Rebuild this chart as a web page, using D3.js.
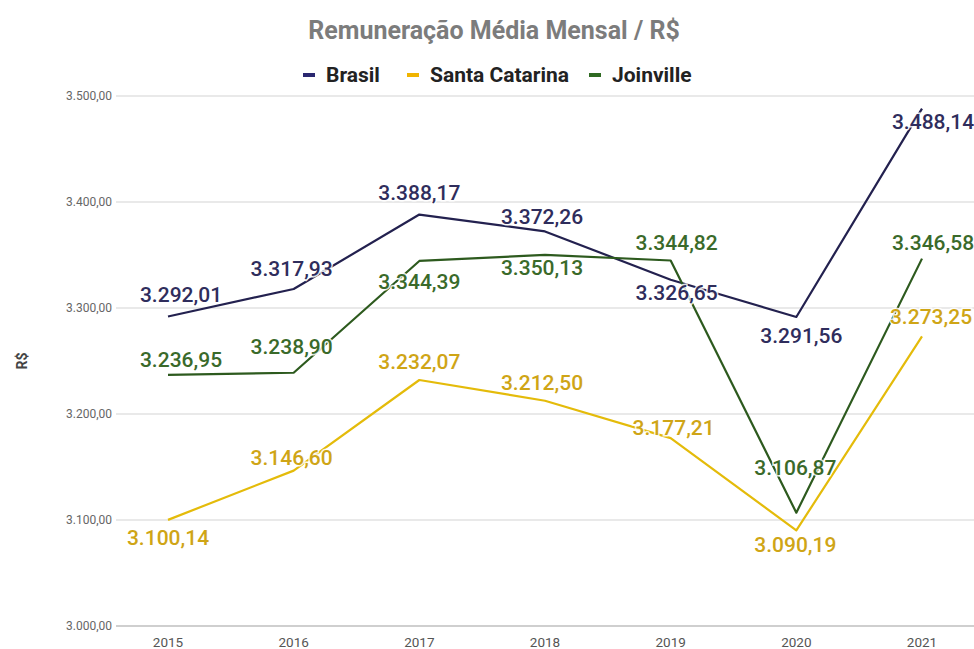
<!DOCTYPE html>
<html>
<head>
<meta charset="utf-8">
<script src="https://cdn.jsdelivr.net/npm/d3@7"></script>
<style>
  body { margin: 0; background: #fff; }
  svg { font-family: Roboto, "Liberation Sans", Arial, sans-serif; }
</style>
</head>
<body>
<svg id="chart" width="974" height="649"></svg>
<script>
// Data
const years = ["2015", "2016", "2017", "2018", "2019", "2020", "2021"];
const brasil = [3292.01, 3317.93, 3388.17, 3372.26, 3326.65, 3291.56, 3488.14];
const santaCatarina = [3100.14, 3146.60, 3232.07, 3212.50, 3177.21, 3090.19, 3273.25];
const joinville = [3236.95, 3238.90, 3344.39, 3350.13, 3344.82, 3106.87, 3346.58];
const yTicks = [3000, 3100, 3200, 3300, 3400, 3500];

// Label offsets (layout only), one [dx, dy] per point
const brasilOffsets = [[13, -22], [-2, -20], [0, -22], [-3, -15], [6, 13], [5, 19], [11, 13]];
const scOffsets = [[0, 18], [-2, -13], [0, -18], [-3, -18], [3, -11], [-1, 14], [9, -20]];
const joinvilleOffsets = [[13, -15], [-2, -26], [0, 21], [-3, 13], [6, -18], [-1, -45], [11, -16]];

const series = [
  { name: "Brasil", values: brasil, offsets: brasilOffsets, line: "#23214f", label: "#2f2d5c", key: "#2a2870" },
  { name: "Santa Catarina", values: santaCatarina, offsets: scOffsets, line: "#e4bb0a", label: "#cfa516", key: "#f0b400" },
  { name: "Joinville", values: joinville, offsets: joinvilleOffsets, line: "#2d5a1e", label: "#3a6a2a", key: "#2f6a22" }
];

const ptBR = d3.formatLocale({ decimal: ",", thousands: ".", grouping: [3], currency: ["R$", ""] });
const fmt = ptBR.format(",.2f");

const svg = d3.select("#chart");
const width = +svg.attr("width");

const x = d3.scalePoint().domain(years).range([168, 922]);
const y = d3.scaleLinear().domain([3000, 3500]).range([626, 96]);

// Title
svg.append("text")
  .attr("x", 494)
  .attr("y", 39)
  .attr("text-anchor", "middle")
  .style("font-size", "25px")
  .style("font-weight", "bold")
  .style("fill", "#7c7c7c")
  .text("Remuneração Média Mensal / R$");

// Legend
const legendItems = [
  { s: series[0], x: 303 },
  { s: series[1], x: 407 },
  { s: series[2], x: 589 }
];
const legend = svg.append("g");
legendItems.forEach(d => {
  legend.append("rect")
    .attr("x", d.x)
    .attr("y", 73)
    .attr("width", 12)
    .attr("height", 4)
    .attr("fill", d.s.key);
  legend.append("text")
    .attr("x", d.x + 23)
    .attr("y", 82)
    .style("font-size", "21px")
    .style("font-weight", "bold")
    .style("fill", "#222")
    .text(d.s.name);
});

// Grid lines
svg.append("g")
  .selectAll("line")
  .data(yTicks.filter(t => t > 3000))
  .enter()
  .append("line")
  .attr("x1", 116)
  .attr("x2", width)
  .attr("y1", d => y(d))
  .attr("y2", d => y(d))
  .attr("stroke", "#e2e2e2")
  .attr("stroke-width", 1.5);

// Baseline
svg.append("line")
  .attr("x1", 116)
  .attr("x2", width)
  .attr("y1", y(3000))
  .attr("y2", y(3000))
  .attr("stroke", "#cfcfcf")
  .attr("stroke-width", 2);

// Y tick labels
svg.append("g")
  .selectAll("text")
  .data(yTicks)
  .enter()
  .append("text")
  .attr("x", 112)
  .attr("y", d => y(d))
  .attr("dy", "0.35em")
  .attr("text-anchor", "end")
  .style("font-size", "12px")
  .style("fill", "#666")
  .text(d => fmt(d));

// Y axis title
svg.append("text")
  .attr("transform", `translate(27,${(y(3000) + y(3500)) / 2}) rotate(-90)`)
  .attr("text-anchor", "middle")
  .style("font-size", "14px")
  .style("font-weight", "bold")
  .style("fill", "#444")
  .text("R$");

// X tick labels
svg.append("g")
  .selectAll("text")
  .data(years)
  .enter()
  .append("text")
  .attr("x", d => x(d))
  .attr("y", 647)
  .attr("text-anchor", "middle")
  .style("font-size", "13.5px")
  .style("fill", "#555")
  .text(d => d);

// Lines
const line = d3.line()
  .x((d, i) => x(years[i]))
  .y(d => y(d));

svg.append("g")
  .selectAll("path")
  .data(series)
  .enter()
  .append("path")
  .attr("d", d => line(d.values))
  .attr("fill", "none")
  .attr("stroke", d => d.line)
  .attr("stroke-width", 2.2)
  .attr("stroke-linejoin", "round");

// Data labels
series.forEach(s => {
  svg.append("g")
    .selectAll("text")
    .data(s.values)
    .enter()
    .append("text")
    .attr("x", (d, i) => x(years[i]) + s.offsets[i][0])
    .attr("y", (d, i) => y(d) + s.offsets[i][1])
    .attr("dy", "0.35em")
    .attr("text-anchor", "middle")
    .style("font-size", "21px")
    .style("font-weight", "500")
    .style("fill", s.label)
    .style("stroke", "#fff")
    .style("stroke-width", "3px")
    .style("stroke-opacity", 0.85)
    .style("paint-order", "stroke")
    .text(d => fmt(d));
});
</script>
</body>
</html>
